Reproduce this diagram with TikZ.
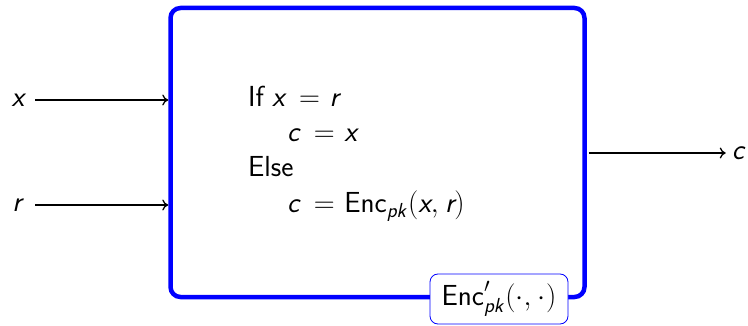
\RequirePackage{fix-cm}
\documentclass[tikz,border=0pt]{standalone}
\usepackage{amsmath}
\usepackage{fontspec}
\usetikzlibrary{arrows.meta}
\renewcommand{\familydefault}{\sfdefault}
\newcommand{\vv}[1]{\textit{#1}}
\newcommand{\eqq}{\mkern3mu=}
\thickmuskip=6mu plus 2mu
\thinmuskip=4mu
\begin{document}
\begin{tikzpicture}[x=1pt,y=-1pt,
  txt/.style={font=\fontsize{29}{34}\selectfont, inner sep=0pt},
  wire/.style={line width=1.3pt, -{To[length=6pt,width=11pt]}},
  bigbox/.style={draw=blue, line width=4.5pt, rounded corners=10pt, inner sep=0pt},
  tag/.style={draw=blue, line width=0.8pt, fill=white, rounded corners=8pt, inner sep=0pt}]
\useasboundingbox (0,0) rectangle (748,326);
\node[bigbox, minimum width=414pt, minimum height=289pt] (box) at (377.5,152.5) {};
\node[txt, anchor=base west] (l1) at (248,107) {If\hspace{8pt}$\vv{x} \eqq \vv{r}$};
\node[txt, anchor=base west] (l2) at (287,142) {$\vv{c} \eqq \vv{x}$};
\node[txt, anchor=base west] (l3) at (248,177) {Else};
\node[txt, anchor=base west] (l4) at (287,213) {$\vv{c} \eqq \text{Enc}_{\vv{pk}}\mkern1mu(\vv{x}, \vv{r})$};
\node[tag, minimum width=138pt, minimum height=50pt] (enc) at (499,299) {};
\node[txt] (enct) at (enc.center) {$\text{Enc}'_{\vv{pk}}\mkern1mu(\cdot, \cdot)$};
\node[txt] (xin) at (18,100) {$\vv{x}$};
\node[txt] (rin) at (17,205) {$\vv{r}$};
\node[txt] (cout) at (738,153) {$\vv{c}$};
\draw[wire] (35,100) coordinate (xs) -- (xs -| box.west);
\draw[wire] (35,205) coordinate (rs) -- (rs -| box.west);
\draw[wire] (cout.west -| box.east) ++(2,0) -- ([xshift=-6pt]cout.west);
\end{tikzpicture}
\end{document}
